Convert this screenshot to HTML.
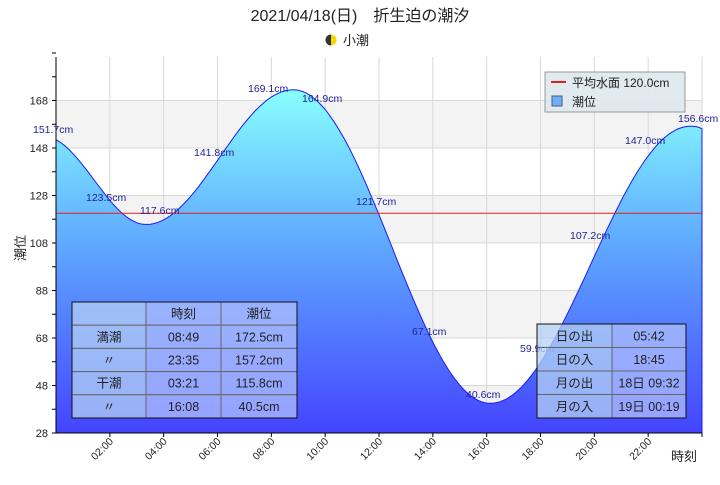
<!DOCTYPE html>
<html><head><meta charset="utf-8"><style>
body{margin:0;width:720px;height:480px;background:#fff;overflow:hidden;font-family:"Liberation Sans","Noto Sans CJK JP",sans-serif}
svg text{font-family:"Liberation Sans","Noto Sans CJK JP",sans-serif}
</style></head><body>
<svg id="s" width="720" height="480" xmlns="http://www.w3.org/2000/svg">
<defs>
<linearGradient id="g" gradientUnits="userSpaceOnUse" x1="0" y1="90" x2="0" y2="433">
<stop offset="0" stop-color="#88ffff"/><stop offset="0.45" stop-color="#5fa8ff"/><stop offset="1" stop-color="#4444ff"/>
</linearGradient>
</defs>
<text x="360" y="21" font-size="16" text-anchor="middle" fill="#222">2021/04/18(日)　折生迫の潮汐</text>
<circle cx="331" cy="40" r="5.5" fill="#f5d800"/><path d="M331 34.5 A5.5 5.5 0 0 0 331 45.5 Z" fill="#333"/>
<text x="343" y="45" font-size="13" fill="#222">小潮</text>
<g id="bands"></g>
<g id="grid" stroke="#d8d8d8" stroke-width="1"></g>
<path id="area" fill="url(#g)" stroke="#1a1aff" stroke-width="1"/>
<line x1="56" x2="702" y1="213.3" y2="213.3" stroke="#e02020" stroke-width="1"/>
<g id="axes"></g>
<g font-size="10.5" fill="#22229a">
<text x="33" y="133">151.7cm</text><text x="86" y="201">123.5cm</text><text x="140" y="214">117.6cm</text>
<text x="194" y="156">141.8cm</text><text x="248" y="92">169.1cm</text><text x="302" y="102">164.9cm</text>
<text x="356" y="205">121.7cm</text><text x="412" y="335">67.1cm</text><text x="466" y="398">40.6cm</text>
<text x="520" y="352">59.9cm</text><text x="570" y="239">107.2cm</text><text x="625" y="144">147.0cm</text><text x="678" y="122">156.6cm</text>
</g>
<rect x="545" y="72" width="140" height="40" fill="#dde8ee" fill-opacity="0.92" stroke="#999"/>
<line x1="551" x2="566" y1="82" y2="82" stroke="#e02020" stroke-width="2"/>
<text x="572" y="87" font-size="12" fill="#222">平均水面 120.0cm</text>
<rect x="552" y="96" width="10" height="10" fill="#6ab0ff" stroke="#557"/>
<text x="572" y="106" font-size="12" fill="#222">潮位</text>
<g id="t1"></g>
<text transform="translate(25,248) rotate(-90)" font-size="13" text-anchor="middle" fill="#222">潮位</text>
<text x="671" y="461" font-size="13" fill="#222">時刻</text>
</svg>
<script>
var S=document.getElementById('s'),NS='http://www.w3.org/2000/svg';
function X(h){return 56+h*646/24}function Y(v){return 433-(v-28)*2.375}
function el(p,t,a,txt){var e=document.createElementNS(NS,t);for(var k in a)e.setAttribute(k,a[k]);if(txt!=null)e.textContent=txt;document.getElementById(p).appendChild(e);return e}
[[148,168],[108,128],[68,88],[28,48]].forEach(function(b){el('bands','rect',{x:56,y:Y(b[1]),width:646,height:Y(b[0])-Y(b[1]),fill:'#f3f3f3'})});
for(var h=2;h<=24;h+=2)el('grid','line',{x1:X(h),x2:X(h),y1:57,y2:433});
for(var v=48;v<=168;v+=20)el('grid','line',{x1:56,x2:702,y1:Y(v),y2:Y(v)});
var ex=[[-0.5,153],[3.35,115.8],[8.817,172.5],[16.133,40.5],[23.583,157.2],[29.8,60]];
function tide(t){for(var i=0;i<ex.length-1;i++){var a=ex[i],b=ex[i+1];if(t>=a[0]&&t<=b[0]){var f=(t-a[0])/(b[0]-a[0]);return a[1]+(b[1]-a[1])*(1-Math.cos(Math.PI*f))/2}}}
var d='M56 433';for(var t=0;t<=24.001;t+=0.1)d+=' L'+X(t).toFixed(1)+' '+Y(tide(t)).toFixed(1);d+=' L702 433 Z';
document.getElementById('area').setAttribute('d',d);
el('axes','line',{x1:56,x2:56,y1:57,y2:433,stroke:'#000'});el('axes','line',{x1:56,x2:702,y1:433,y2:433,stroke:'#000'});
for(var v=28;v<=188;v+=10){el('axes','line',{x1:52,x2:56,y1:Y(v),y2:Y(v),stroke:'#000'});if((v-28)%20==0&&v<=168)el('axes','text',{x:48,y:Y(v)+4,'font-size':11,'text-anchor':'end',fill:'#222'},v)}
for(var h=2;h<=24;h+=2){el('axes','line',{x1:X(h),x2:X(h),y1:433,y2:437,stroke:'#000'});
var lab=(h<10?'0':'')+h+':00';if(h<24)el('axes','text',{transform:'translate('+(X(h)+4)+',442) rotate(-45)','font-size':10.5,'text-anchor':'end',fill:'#222'},lab)}
function table(x0,y0,cw,rh,rows){rows.forEach(function(r,i){var x=x0;r.forEach(function(c,j){el('t1','rect',{x:x,y:y0+i*rh,width:cw[j],height:rh,fill:j==0?'#b4d2f4':'#b0c0ff','fill-opacity':0.75,stroke:'#666'});
el('t1','text',{x:x+cw[j]/2,y:y0+i*rh+rh/2+4.5,'font-size':12.5,'text-anchor':'middle',fill:'#222'},c);x+=cw[j]});});
var W=cw.reduce(function(a,b){return a+b});el('t1','rect',{x:x0,y:y0,width:W,height:rh*rows.length,fill:'none',stroke:'#111'})}
table(72,302,[74,75,76],23.2,[['','時刻','潮位'],['満潮','08:49','172.5cm'],['〃','23:35','157.2cm'],['干潮','03:21','115.8cm'],['〃','16:08','40.5cm']]);
table(537,324,[75,74],23.5,[['日の出','05:42'],['日の入','18:45'],['月の出','18日 09:32'],['月の入','19日 00:19']]);
</script>
</body></html>
